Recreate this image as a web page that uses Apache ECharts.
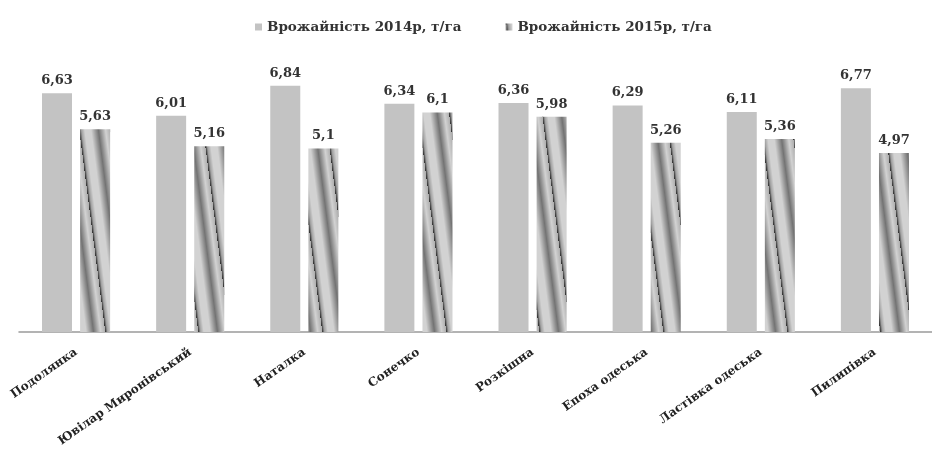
<!DOCTYPE html>
<html>
<head>
<meta charset="utf-8">
<script src="https://cdn.jsdelivr.net/npm/echarts@6/dist/echarts.min.js"></script>
<style>
  html, body { margin: 0; padding: 0; background: #fff; }
  #chart { width: 932px; height: 468px; }
</style>
</head>
<body>
<div id="chart"></div>
<script>
// Winter wheat varieties and their yields, t/ha
const categories = ['Подолянка', 'Ювілар Миронівський', 'Наталка', 'Сонечко', 'Розкішна', 'Епоха одеська', 'Ластівка одеська', 'Пилипівка'];
const yield2014 = [6.63, 6.01, 6.84, 6.34, 6.36, 6.29, 6.11, 6.77];
const yield2015 = [5.63, 5.16, 5.10, 6.10, 5.98, 5.26, 5.36, 4.97];
const seriesNames = ['Врожайність 2014р, т/га', 'Врожайність 2015р, т/га'];

// Slanted shaded stripe texture for the second series
function makeStripeTile() {
  const w = 31, h = 240;
  const c = document.createElement('canvas');
  c.width = w; c.height = h;
  const ctx = c.getContext('2d');
  const img = ctx.createImageData(w, h);
  const light = 210;
  for (let y = 0; y < h; y++) {
    const shift = (y / h) * w;
    for (let x = 0; x < w; x++) {
      const p = ((x - shift) % w + w) % w / w; // 0 = dark line
      let g;
      if (p < 0.07) g = 50 + (p / 0.07) * 110;
      else if (p < 0.18) g = 160 + ((p - 0.07) / 0.11) * (light - 160);
      else if (p < 0.38) g = light;
      else if (p < 0.62) g = light - ((p - 0.38) / 0.24) * 95;
      else if (p < 0.85) g = (light - 95) + ((p - 0.62) / 0.23) * 95;
      else g = light - ((p - 0.85) / 0.15) * 35;
      const i = (y * w + x) * 4;
      img.data[i] = img.data[i + 1] = img.data[i + 2] = Math.round(g);
      img.data[i + 3] = 255;
    }
  }
  ctx.putImageData(img, 0, 0);
  return c;
}

const stripe = { image: makeStripeTile(), repeat: 'repeat' };
const serif = '"DejaVu Serif", "Liberation Serif", serif';
const commaFmt = p => String(p.value).replace('.', ',');

const chart = echarts.init(document.getElementById('chart'));
chart.setOption({
  animation: false,
  backgroundColor: '#ffffff',
  legend: {
    top: 15,
    left: 250,
    itemWidth: 7,
    itemHeight: 7,
    itemGap: 44,
    icon: 'rect',
    textStyle: { fontFamily: serif, fontWeight: 'bold', fontSize: 13.5, color: '#333' },
    data: seriesNames
  },
  grid: { left: 19, right: -13, top: 44, bottom: 136 },
  xAxis: {
    type: 'category',
    data: categories,
    axisLine: { lineStyle: { color: '#9a9a9a', width: 1.5 } },
    axisTick: { show: false },
    axisLabel: {
      rotate: 35,
      interval: 0,
      margin: 19,
      fontFamily: serif,
      fontWeight: 'bold',
      fontSize: 12,
      color: '#222'
    }
  },
  yAxis: {
    type: 'value',
    min: 0,
    max: 8,
    show: false,
    splitLine: { show: false }
  },
  series: [
    {
      name: seriesNames[0],
      type: 'bar',
      data: yield2014,
      barWidth: 30,
      barGap: '27%',
      itemStyle: { color: '#c3c3c3' },
      label: {
        show: true, position: 'top', distance: 6, formatter: commaFmt,
        fontFamily: serif, fontWeight: 'bold', fontSize: 13, color: '#333'
      }
    },
    {
      name: seriesNames[1],
      type: 'bar',
      data: yield2015,
      barWidth: 30,
      itemStyle: { color: stripe },
      label: {
        show: true, position: 'top', distance: 6, formatter: commaFmt,
        fontFamily: serif, fontWeight: 'bold', fontSize: 13, color: '#333'
      }
    }
  ]
});
</script>
</body>
</html>
